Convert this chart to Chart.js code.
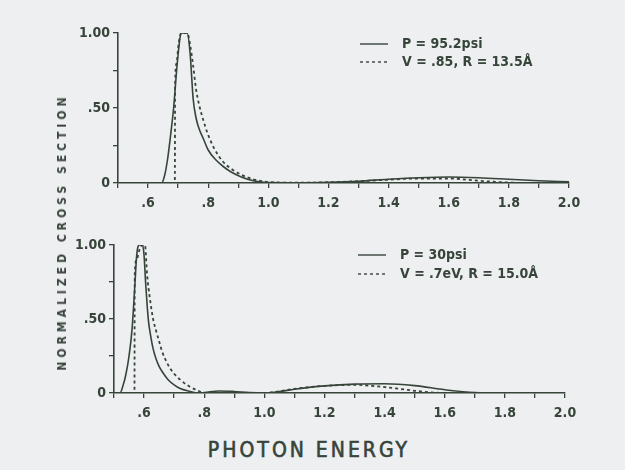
<!DOCTYPE html>
<html>
<head>
<meta charset="utf-8">
<script src="https://cdn.jsdelivr.net/npm/chart.js@4/dist/chart.umd.min.js"></script>
<style>
  body { margin: 0; background: #edeff1; }
  #wrap { position: relative; width: 625px; height: 470px; overflow: hidden; background: #edeff1; }
  canvas { position: absolute; left: 0; }
  #ytitle {
    position: absolute; left: 62px; top: 232px;
    transform: translate(-50%, -50%) rotate(-90deg);
    font: bold 12px "DejaVu Sans Condensed", "DejaVu Sans", sans-serif;
    letter-spacing: 4px; color: #37443a; white-space: nowrap;
  }
  #xtitle {
    position: absolute; left: 309px; top: 450px;
    transform: translate(-50%, -50%);
    font: 21px "DejaVu Sans Condensed", "DejaVu Sans", sans-serif;
    -webkit-text-stroke: 0.6px #37443a;
    letter-spacing: 3px; color: #37443a; white-space: nowrap;
  }
</style>
</head>
<body>
<div id="wrap">
  <canvas id="top-chart" width="625" height="215" style="top:0"></canvas>
  <canvas id="bottom-chart" width="625" height="215" style="top:215px"></canvas>
  <div id="ytitle">NORMALIZED CROSS SECTION</div>
  <div id="xtitle">PHOTON ENERGY</div>
</div>
<script>
// Top panel: P = 95.2 psi, measured (solid) and fit (dashed)
const topSolidE = [0.5, 0.645, 0.655, 0.665, 0.675, 0.685, 0.695, 0.705, 0.71, 0.73, 0.74, 0.75, 0.76, 0.77, 0.785, 0.80, 0.825, 0.85, 0.875, 0.91, 0.95, 1.0, 1.1, 1.2, 1.3, 1.4, 1.5, 1.6, 1.7, 1.8, 1.9, 2.0];
const topSolidV = [0, 0, 0.05, 0.16, 0.32, 0.5, 0.75, 0.95, 1.0, 1.0, 0.86, 0.56, 0.43, 0.36, 0.29, 0.22, 0.155, 0.11, 0.075, 0.04, 0.015, 0.003, 0.002, 0.005, 0.012, 0.025, 0.035, 0.04, 0.035, 0.025, 0.015, 0.008];
const topDashE = [0.5, 0.689, 0.69, 0.695, 0.70, 0.705, 0.71, 0.73, 0.74, 0.75, 0.76, 0.77, 0.785, 0.80, 0.82, 0.85, 0.88, 0.91, 0.95, 0.98, 1.0, 1.1, 1.2, 1.3, 1.4, 1.5, 1.6, 1.7, 1.8, 1.9, 2.0];
const topDashV = [0, 0, 0.67, 0.8, 0.9, 0.97, 1.0, 1.0, 0.92, 0.78, 0.62, 0.52, 0.41, 0.32, 0.23, 0.14, 0.09, 0.055, 0.025, 0.012, 0.006, 0.002, 0.005, 0.012, 0.022, 0.03, 0.03, 0.015, 0.003, 0, 0];

// Bottom panel: P = 30 psi
const botSolidE = [0.5, 0.52, 0.53, 0.54, 0.55, 0.56, 0.57, 0.575, 0.58, 0.585, 0.595, 0.60, 0.605, 0.61, 0.615, 0.62, 0.63, 0.64, 0.65, 0.66, 0.68, 0.70, 0.72, 0.75, 0.78, 0.80, 0.85, 0.90, 0.95, 1.0, 1.05, 1.1, 1.2, 1.3, 1.4, 1.5, 1.6, 1.7, 1.8, 2.0];
const botSolidV = [0, 0, 0.05, 0.13, 0.25, 0.43, 0.75, 0.92, 0.99, 1.0, 1.0, 0.93, 0.75, 0.6, 0.48, 0.41, 0.3, 0.23, 0.18, 0.145, 0.09, 0.055, 0.03, 0.012, 0.0, 0.003, 0.014, 0.01, 0.003, 0.0, 0.01, 0.025, 0.048, 0.06, 0.062, 0.05, 0.022, 0.003, 0, 0];
const botDashE = [0.5, 0.568, 0.569, 0.575, 0.585, 0.595, 0.603, 0.61, 0.62, 0.63, 0.64, 0.65, 0.66, 0.68, 0.70, 0.72, 0.75, 0.78, 0.80, 0.9, 1.0, 1.05, 1.1, 1.2, 1.3, 1.4, 1.45, 1.5, 1.55, 1.6, 2.0];
const botDashV = [0, 0, 0.8, 0.9, 0.97, 1.0, 1.0, 0.8, 0.63, 0.5, 0.42, 0.35, 0.28, 0.19, 0.13, 0.09, 0.045, 0.015, 0.0, 0.0, 0.0, 0.012, 0.028, 0.048, 0.055, 0.04, 0.028, 0.015, 0.005, 0, 0];

const topLabels = ['P = 95.2psi', 'V = .85, R = 13.5Å'];
const botLabels = ['P = 30psi', 'V = .7eV, R = 15.0Å'];

const INK = '#37443a';
const FONT = '"DejaVu Sans Condensed", "DejaVu Sans", sans-serif';

function pairs(xs, ys) {
    return xs.map((x, i) => ({ x: x, y: ys[i] }));
}

// little legend drawn inside the panel, lines + text
const panelLegend = {
    id: 'panelLegend',
    afterDraw(chart, args, opts) {
        const ctx = chart.ctx;
        ctx.save();
        chart.data.datasets.forEach((ds, i) => {
            const y = opts.y + i * opts.gap;
            ctx.strokeStyle = INK;
            ctx.lineWidth = 1.4;
            ctx.setLineDash(ds.borderDash || []);
            ctx.beginPath();
            ctx.moveTo(opts.x, y);
            ctx.lineTo(opts.x + 28, y);
            ctx.stroke();
            ctx.setLineDash([]);
            ctx.fillStyle = INK;
            ctx.font = 'bold 14px ' + FONT;
            ctx.textBaseline = 'middle';
            ctx.fillText(ds.label, opts.x + 42, y);
        });
        ctx.restore();
    }
};

function makePanel(canvasId, solid, dashed, labels, pad, axisH, legendPos) {
    const ctx = document.getElementById(canvasId).getContext('2d');
    return new Chart(ctx, {
        type: 'line',
        data: {
            datasets: [{
                label: labels[0],
                data: solid,
                borderColor: INK,
                borderWidth: 1.6,
                pointRadius: 0,
                cubicInterpolationMode: 'monotone'
            }, {
                label: labels[1],
                data: dashed,
                borderColor: INK,
                borderWidth: 1.8,
                borderDash: [3, 3],
                pointRadius: 0,
                cubicInterpolationMode: 'monotone'
            }]
        },
        options: {
            responsive: false,
            animation: false,
            layout: { padding: pad },
            plugins: {
                legend: { display: false },
                tooltip: { enabled: false },
                panelLegend: legendPos
            },
            scales: {
                x: {
                    type: 'linear',
                    min: 0.5,
                    max: 2.0,
                    afterFit: (s) => { s.height = axisH; },
                    border: { display: true, color: INK, width: 1.6 },
                    grid: { drawOnChartArea: false, drawTicks: true, tickLength: 5, color: INK, lineWidth: 1.3 },
                    ticks: {
                        stepSize: 0.1,
                        autoSkip: false,
                        maxRotation: 0,
                        padding: 7,
                        color: INK,
                        font: { family: FONT, size: 14, weight: 'bold' },
                        callback: (v) => {
                            const t = Math.round(v * 10);
                            if (t % 2 !== 0 || t < 6) return '';
                            return t < 10 ? '.' + t : (t / 10).toFixed(1);
                        }
                    }
                },
                y: {
                    min: 0,
                    max: 1,
                    afterFit: (s) => { s.width = 60; },
                    border: { display: true, color: INK, width: 1.6 },
                    grid: { drawOnChartArea: false, drawTicks: true, tickLength: 5, color: INK, lineWidth: 1.3 },
                    ticks: {
                        stepSize: 0.25,
                        padding: 3,
                        color: INK,
                        font: { family: FONT, size: 14, weight: 'bold' },
                        callback: (v) => {
                            if (v === 0) return '0';
                            if (v === 0.5) return '.50';
                            if (v === 1) return '1.00';
                            return '';
                        }
                    }
                }
            }
        },
        plugins: [panelLegend]
    });
}

makePanel('top-chart', pairs(topSolidE, topSolidV), pairs(topDashE, topDashV), topLabels,
    { left: 58, right: 56, top: 33, bottom: 0 }, 32, { x: 360, y: 44, gap: 18 });
makePanel('bottom-chart', pairs(botSolidE, botSolidV), pairs(botDashE, botDashV), botLabels,
    { left: 54, right: 60, top: 30, bottom: 0 }, 37, { x: 358, y: 40, gap: 19 });
</script>
</body>
</html>
